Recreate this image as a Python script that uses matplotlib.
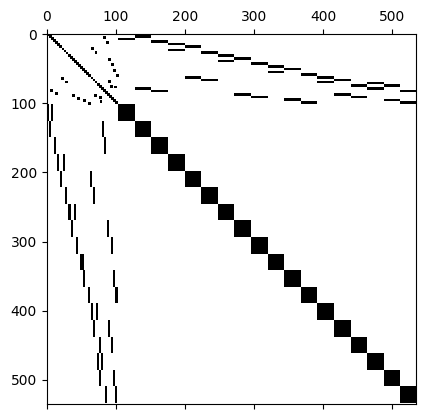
import numpy as np
import matplotlib
matplotlib.use("Agg")
import matplotlib.pyplot as plt

# ---- data ----
n_head = 103          # size of the leading (interface) part
n_blocks = 18         # number of dense diagonal blocks
block_size = 24

# top-left part: symmetric off-diagonal entries (row, col)
head_pairs_rows = [4, 12, 20, 26, 36, 44, 52, 60, 68, 75, 76]
head_pairs_cols = [81, 85, 64, 69, 88, 93, 96, 100, 88, 91, 97]

# upper-right coupling: for each block, two row ranges (start, width)
upper_start1 = [0, 3, 10, 14, 18, 26, 30, 35, 42, 46, 50, 58, 62, 66, 74, 71, 74, 82]
upper_width1 = [3, 4, 4, 4, 4, 4, 4, 4, 4, 4, 4, 4, 4, 4, 4, 3, 4, 4]
upper_start2 = [7, 78, 82, 23, 62, 66, 39, 87, 91, 55, 94, 98, 70, 87, 91, 78, 95, 98]
upper_width2 = [3, 4, 4, 3, 4, 4, 3, 4, 3, 3, 4, 4, 3, 4, 3, 4, 4, 4]

# lower-left coupling: for each block, two column ranges (start, width)
lower_start1 = [0, 3, 10, 15, 19, 26, 31, 35, 42, 47, 52, 59, 63, 67, 75, 72, 75, 84]
lower_start2 = [6, 79, 83, 23, 62, 67, 39, 87, 92, 51, 95, 99, 71, 88, 92, 78, 95, 98]
lower_width = 3

N = n_head + n_blocks * block_size
M = np.zeros((N, N))

# head diagonal (small dense blocks)
for i in range(0, n_head, 3):
    j = min(i + 4, n_head)
    M[i:j, i:j] = 1
for r, c in zip(head_pairs_rows, head_pairs_cols):
    M[r:r + 4, c:c + 4] = 1
    M[c:c + 4, r:r + 4] = 1

for k in range(n_blocks):
    b0 = n_head + k * block_size
    b1 = b0 + block_size
    M[b0:b1, b0:b1] = 1
    M[upper_start1[k]:upper_start1[k] + upper_width1[k], b0:b1] = 1
    M[upper_start2[k]:upper_start2[k] + upper_width2[k], b0:b1] = 1
    M[b0:b1, lower_start1[k]:lower_start1[k] + lower_width] = 1
    M[b0:b1, lower_start2[k]:lower_start2[k] + lower_width] = 1

fig = plt.figure(figsize=(4.25, 4.18), dpi=100)
ax = fig.add_axes([46.5 / 425, 14.5 / 418, 369.5 / 425, 369.5 / 418])
ax.spy(M)
fig.savefig("out.png", dpi=100)
